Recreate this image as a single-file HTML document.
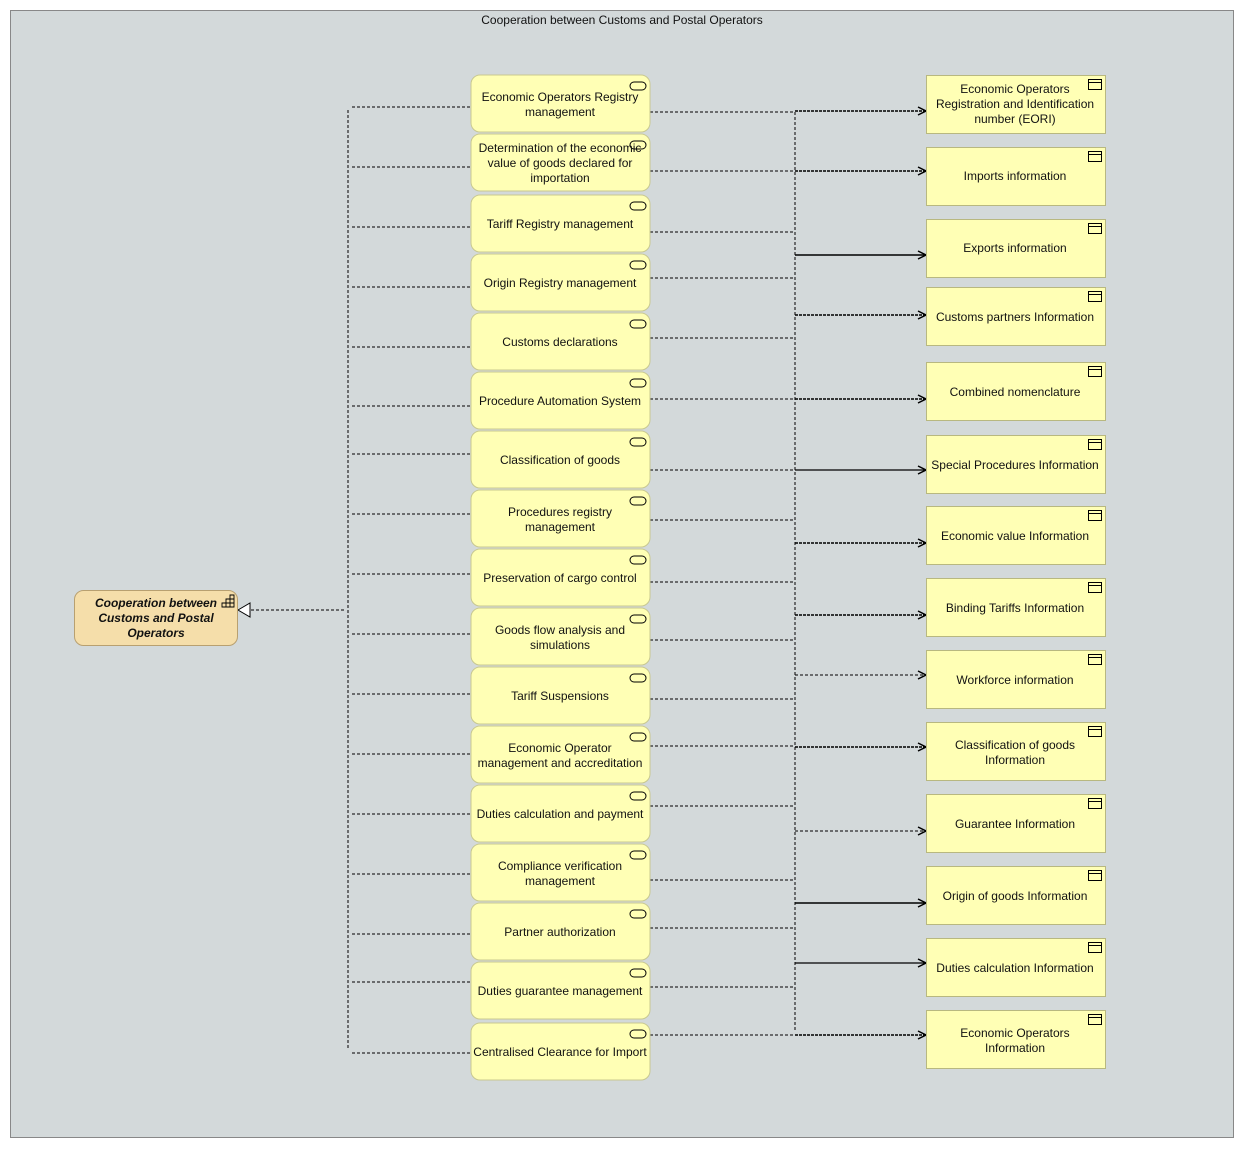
<!DOCTYPE html>
<html><head><meta charset="utf-8"><style>
body{margin:0;background:#fff;}
svg text{font-family:"Liberation Sans",sans-serif;font-size:12px;fill:#111;}
</style></head><body>
<svg width="1244" height="1148" xmlns="http://www.w3.org/2000/svg">
<defs>
<marker id="a" markerWidth="10" markerHeight="10" refX="9" refY="5" orient="auto" markerUnits="userSpaceOnUse"><path d="M1,1 L9,5 L1,9" fill="none" stroke="#000" stroke-width="1.5"/></marker>
</defs>
<rect x="10.5" y="10.5" width="1223" height="1127" fill="#d3d9da" stroke="#888"/>
<text x="622" y="24" text-anchor="middle" font-size="11">Cooperation between Customs and Postal Operators</text>
<g fill="none" stroke="#000" stroke-dasharray="3,2" shape-rendering="crispEdges">
<path d="M348,110 V1048"/>
<path d="M795,112 V1032"/>
</g>
<path d="M344,610 H240" stroke="#000" stroke-dasharray="3,2" shape-rendering="crispEdges"/>
<polygon points="238,610 250,603 250,617" fill="#fff" stroke="#000"/>
<g id="left" stroke="#000" stroke-dasharray="3,2" fill="none" shape-rendering="crispEdges">
<path d="M352,107H471M352,167H471M352,227H471M352,287H471M352,347H471M352,406H471M352,454H471M352,514H471M352,574H471M352,634H471M352,694H471M352,754H471M352,814H471M352,874H471M352,934H471M352,982H471M352,1053H471"/>
<path d="M650,112H795M650,171H795M650,232H795M650,278H795M650,338H795M650,399H795M650,470H795M650,520H795M650,582H795M650,640H795M650,699H795M650,746H795M650,806H795M650,880H795M650,928H795M650,987H795M650,1035H795"/>
</g>
<g stroke="#000" fill="none" marker-end="url(#a)">
<path d="M795,111H926" stroke-dasharray="3,1" stroke-width="1.5"/>
<path d="M795,171H926" stroke-dasharray="3,1" stroke-width="1.5"/>
<path d="M795,255H926" stroke-width="1.5"/>
<path d="M795,315H926" stroke-dasharray="3,1" stroke-width="1.5"/>
<path d="M795,399H926" stroke-dasharray="3,1" stroke-width="1.5"/>
<path d="M795,470H926" stroke-width="1.3"/>
<path d="M795,543H926" stroke-dasharray="3,1" stroke-width="1.5"/>
<path d="M795,615H926" stroke-dasharray="3,1" stroke-width="1.5"/>
<path d="M795,675H926" stroke-dasharray="3,2"/>
<path d="M795,747H926" stroke-dasharray="3,1" stroke-width="1.5"/>
<path d="M795,831H926" stroke-dasharray="3,2"/>
<path d="M795,903H926" stroke-width="1.5"/>
<path d="M795,963H926" stroke-width="1.3"/>
<path d="M795,1035H926" stroke-dasharray="3,1" stroke-width="1.5"/>
</g>
<rect x="74.5" y="590.5" width="163" height="55" rx="9" fill="#f5deaa" stroke="#b8a070"/>
<g font-style="italic" font-weight="bold" text-anchor="middle"><text x="156" y="607">Cooperation between</text><text x="156" y="622">Customs and Postal</text><text x="156" y="637">Operators</text></g>
<g fill="none" stroke="#000" stroke-width="0.9"><path d="M222,607h12v-12h-4v4h-4v4h-4z M226,607v-8h8 M230,607v-8 M222,603h12"/></g>
<g fill="#ffffb5" stroke="#c8c890">
<rect x="471" y="75" width="179" height="57" rx="9"/><rect x="471" y="134" width="179" height="57" rx="9"/><rect x="471" y="195" width="179" height="57" rx="9"/><rect x="471" y="254" width="179" height="57" rx="9"/><rect x="471" y="313" width="179" height="57" rx="9"/><rect x="471" y="372" width="179" height="57" rx="9"/><rect x="471" y="431" width="179" height="57" rx="9"/><rect x="471" y="490" width="179" height="57" rx="9"/><rect x="471" y="549" width="179" height="57" rx="9"/><rect x="471" y="608" width="179" height="57" rx="9"/><rect x="471" y="667" width="179" height="57" rx="9"/><rect x="471" y="726" width="179" height="57" rx="9"/><rect x="471" y="785" width="179" height="57" rx="9"/><rect x="471" y="844" width="179" height="57" rx="9"/><rect x="471" y="903" width="179" height="57" rx="9"/><rect x="471" y="962" width="179" height="57" rx="9"/><rect x="471" y="1023" width="179" height="57" rx="9"/>
</g>
<g fill="none" stroke="#000">
<rect x="630" y="82" width="16" height="8" rx="4"/><rect x="630" y="141" width="16" height="8" rx="4"/><rect x="630" y="202" width="16" height="8" rx="4"/><rect x="630" y="261" width="16" height="8" rx="4"/><rect x="630" y="320" width="16" height="8" rx="4"/><rect x="630" y="379" width="16" height="8" rx="4"/><rect x="630" y="438" width="16" height="8" rx="4"/><rect x="630" y="497" width="16" height="8" rx="4"/><rect x="630" y="556" width="16" height="8" rx="4"/><rect x="630" y="615" width="16" height="8" rx="4"/><rect x="630" y="674" width="16" height="8" rx="4"/><rect x="630" y="733" width="16" height="8" rx="4"/><rect x="630" y="792" width="16" height="8" rx="4"/><rect x="630" y="851" width="16" height="8" rx="4"/><rect x="630" y="910" width="16" height="8" rx="4"/><rect x="630" y="969" width="16" height="8" rx="4"/><rect x="630" y="1030" width="16" height="8" rx="4"/>
</g>
<g text-anchor="middle">
<text x="560" y="101">Economic Operators Registry</text><text x="560" y="116">management</text>
<text x="560" y="152">Determination of the economic</text><text x="560" y="167">value of goods declared for</text><text x="560" y="182">importation</text>
<text x="560" y="228">Tariff Registry management</text>
<text x="560" y="287">Origin Registry management</text>
<text x="560" y="346">Customs declarations</text>
<text x="560" y="405">Procedure Automation System</text>
<text x="560" y="464">Classification of goods</text>
<text x="560" y="516">Procedures registry</text><text x="560" y="531">management</text>
<text x="560" y="582">Preservation of cargo control</text>
<text x="560" y="634">Goods flow analysis and</text><text x="560" y="649">simulations</text>
<text x="560" y="700">Tariff Suspensions</text>
<text x="560" y="752">Economic Operator</text><text x="560" y="767">management and accreditation</text>
<text x="560" y="818">Duties calculation and payment</text>
<text x="560" y="870">Compliance verification</text><text x="560" y="885">management</text>
<text x="560" y="936">Partner authorization</text>
<text x="560" y="995">Duties guarantee management</text>
<text x="560" y="1056">Centralised Clearance for Import</text>
</g>
<g fill="#ffffb5" stroke="#b8b880">
<rect x="926.5" y="75.5" width="179" height="58"/><rect x="926.5" y="147.5" width="179" height="58"/><rect x="926.5" y="219.5" width="179" height="58"/><rect x="926.5" y="287.5" width="179" height="58"/><rect x="926.5" y="362.5" width="179" height="58"/><rect x="926.5" y="435.5" width="179" height="58"/><rect x="926.5" y="506.5" width="179" height="58"/><rect x="926.5" y="578.5" width="179" height="58"/><rect x="926.5" y="650.5" width="179" height="58"/><rect x="926.5" y="722.5" width="179" height="58"/><rect x="926.5" y="794.5" width="179" height="58"/><rect x="926.5" y="866.5" width="179" height="58"/><rect x="926.5" y="938.5" width="179" height="58"/><rect x="926.5" y="1010.5" width="179" height="58"/>
</g>
<g fill="none" stroke="#000">
<path d="M1088.5,79.5h13v10h-13zM1088.5,82.5h13"/><path d="M1088.5,151.5h13v10h-13zM1088.5,154.5h13"/><path d="M1088.5,223.5h13v10h-13zM1088.5,226.5h13"/><path d="M1088.5,291.5h13v10h-13zM1088.5,294.5h13"/><path d="M1088.5,366.5h13v10h-13zM1088.5,369.5h13"/><path d="M1088.5,439.5h13v10h-13zM1088.5,442.5h13"/><path d="M1088.5,510.5h13v10h-13zM1088.5,513.5h13"/><path d="M1088.5,582.5h13v10h-13zM1088.5,585.5h13"/><path d="M1088.5,654.5h13v10h-13zM1088.5,657.5h13"/><path d="M1088.5,726.5h13v10h-13zM1088.5,729.5h13"/><path d="M1088.5,798.5h13v10h-13zM1088.5,801.5h13"/><path d="M1088.5,870.5h13v10h-13zM1088.5,873.5h13"/><path d="M1088.5,942.5h13v10h-13zM1088.5,945.5h13"/><path d="M1088.5,1014.5h13v10h-13zM1088.5,1017.5h13"/>
</g>
<g text-anchor="middle">
<text x="1015" y="93">Economic Operators</text><text x="1015" y="108">Registration and Identification</text><text x="1015" y="123">number (EORI)</text>
<text x="1015" y="180">Imports information</text>
<text x="1015" y="252">Exports information</text>
<text x="1015" y="321">Customs partners Information</text>
<text x="1015" y="396">Combined nomenclature</text>
<text x="1015" y="469">Special Procedures Information</text>
<text x="1015" y="540">Economic value Information</text>
<text x="1015" y="612">Binding Tariffs Information</text>
<text x="1015" y="684">Workforce information</text>
<text x="1015" y="749">Classification of goods</text><text x="1015" y="764">Information</text>
<text x="1015" y="828">Guarantee Information</text>
<text x="1015" y="900">Origin of goods Information</text>
<text x="1015" y="972">Duties calculation Information</text>
<text x="1015" y="1037">Economic Operators</text><text x="1015" y="1052">Information</text>
</g>
</svg>
</body></html>
